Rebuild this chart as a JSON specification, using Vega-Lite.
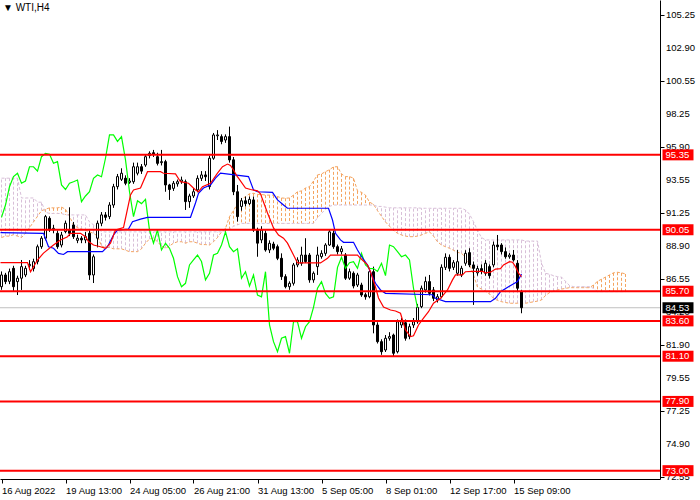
{
  "$schema": "https://vega.github.io/schema/vega-lite/v6.json",
  "width": 660,
  "height": 479,
  "autosize": {"type": "none"},
  "padding": {"left": 0, "top": 0, "right": 40, "bottom": 21},
  "background": "white",
  "title": {
    "text": "▼ WTI,H4",
    "anchor": "start",
    "frame": "group",
    "offset": -13,
    "dx": 3,
    "font": "Liberation Sans",
    "fontSize": 10,
    "fontWeight": "normal",
    "color": "#000000"
  },
  "datasets": {
    "bars": [
      {"i":0,"o":86.02,"h":87.1,"l":85.8,"c":86.85},{"i":1,"o":86.85,"h":87.0,"l":86.2,"c":86.38},
      {"i":2,"o":86.4,"h":87.3,"l":86.2,"c":87.08},{"i":3,"o":87.32,"h":87.5,"l":85.7,"c":86.02},
      {"i":4,"o":86.38,"h":86.8,"l":85.43,"c":86.62},{"i":5,"o":86.62,"h":87.91,"l":85.79,"c":87.44},
      {"i":6,"o":86.85,"h":87.5,"l":86.7,"c":87.32},{"i":7,"o":87.5,"h":87.9,"l":87.2,"c":87.6},
      {"i":8,"o":87.3,"h":88.0,"l":87.1,"c":87.79},{"i":9,"o":87.79,"h":89.0,"l":87.6,"c":88.85},
      {"i":10,"o":88.85,"h":89.6,"l":88.7,"c":89.45},{"i":11,"o":89.45,"h":91.1,"l":89.3,"c":90.98},
      {"i":12,"o":90.86,"h":91.0,"l":89.9,"c":90.03},{"i":13,"o":90.03,"h":90.4,"l":89.8,"c":90.15},
      {"i":14,"o":89.8,"h":90.0,"l":88.7,"c":88.85},{"i":15,"o":88.97,"h":89.9,"l":88.8,"c":89.68},
      {"i":16,"o":89.92,"h":90.7,"l":89.8,"c":90.51},{"i":17,"o":90.03,"h":91.64,"l":89.6,"c":89.8},
      {"i":18,"o":90.39,"h":90.6,"l":89.4,"c":89.56},{"i":19,"o":89.3,"h":89.7,"l":89.1,"c":89.45},
      {"i":20,"o":89.45,"h":89.6,"l":89.1,"c":89.33},{"i":21,"o":89.33,"h":89.9,"l":89.1,"c":89.56},
      {"i":22,"o":89.8,"h":90.0,"l":86.5,"c":86.85},{"i":23,"o":86.85,"h":88.3,"l":86.28,"c":88.14},
      {"i":24,"o":89.45,"h":90.7,"l":88.8,"c":90.51},{"i":25,"o":90.51,"h":91.3,"l":90.3,"c":91.1},
      {"i":26,"o":91.1,"h":91.3,"l":90.7,"c":90.93},{"i":27,"o":90.98,"h":92.0,"l":90.8,"c":91.8},
      {"i":28,"o":91.8,"h":93.3,"l":91.6,"c":93.1},{"i":29,"o":93.1,"h":94.0,"l":92.9,"c":93.81},
      {"i":30,"o":93.62,"h":94.4,"l":93.5,"c":94.05},{"i":31,"o":93.7,"h":93.9,"l":93.2,"c":93.34},
      {"i":32,"o":93.4,"h":93.7,"l":93.3,"c":93.5},{"i":33,"o":93.45,"h":94.8,"l":93.3,"c":94.51},
      {"i":34,"o":94.05,"h":94.8,"l":93.9,"c":94.51},{"i":35,"o":94.51,"h":94.7,"l":94.0,"c":94.2},
      {"i":36,"o":94.63,"h":95.4,"l":94.5,"c":95.22},{"i":37,"o":95.3,"h":95.6,"l":95.1,"c":95.46},
      {"i":38,"o":95.5,"h":95.7,"l":95.2,"c":95.4},{"i":39,"o":95.22,"h":95.5,"l":94.6,"c":94.75},
      {"i":40,"o":94.8,"h":95.7,"l":94.6,"c":94.87},{"i":41,"o":94.87,"h":95.0,"l":92.74,"c":93.22},
      {"i":42,"o":93.22,"h":93.3,"l":92.16,"c":92.9},{"i":43,"o":92.98,"h":93.5,"l":92.8,"c":93.34},
      {"i":44,"o":93.3,"h":93.6,"l":93.1,"c":93.45},{"i":45,"o":93.45,"h":93.81,"l":93.3,"c":93.57},
      {"i":46,"o":93.45,"h":93.6,"l":91.45,"c":92.04},{"i":47,"o":92.04,"h":92.6,"l":91.6,"c":92.44},
      {"i":48,"o":92.44,"h":93.0,"l":92.3,"c":92.74},{"i":49,"o":92.87,"h":93.9,"l":92.7,"c":93.69},
      {"i":50,"o":93.69,"h":94.2,"l":93.5,"c":93.93},{"i":51,"o":93.93,"h":94.2,"l":93.5,"c":93.8},
      {"i":52,"o":93.1,"h":95.3,"l":92.9,"c":95.11},{"i":53,"o":95.11,"h":96.9,"l":95.0,"c":96.76},
      {"i":54,"o":96.7,"h":97.1,"l":96.4,"c":96.76},{"i":55,"o":96.64,"h":96.8,"l":96.1,"c":96.3},
      {"i":56,"o":96.4,"h":96.8,"l":96.2,"c":96.64},{"i":57,"o":96.64,"h":97.35,"l":94.8,"c":94.99},
      {"i":58,"o":95.0,"h":95.2,"l":92.5,"c":92.74},{"i":59,"o":92.74,"h":93.22,"l":90.63,"c":90.98},
      {"i":60,"o":91.7,"h":92.3,"l":91.4,"c":92.1},{"i":61,"o":92.1,"h":92.4,"l":91.7,"c":91.9},
      {"i":62,"o":91.9,"h":92.4,"l":91.8,"c":92.2},{"i":63,"o":92.16,"h":92.4,"l":89.9,"c":90.03},
      {"i":64,"o":90.0,"h":90.2,"l":88.14,"c":89.1},{"i":65,"o":89.33,"h":90.3,"l":89.1,"c":90.03},
      {"i":66,"o":89.8,"h":90.0,"l":88.5,"c":88.62},{"i":67,"o":88.62,"h":89.3,"l":88.4,"c":89.09},
      {"i":68,"o":89.04,"h":89.2,"l":88.6,"c":88.74},{"i":69,"o":88.85,"h":89.0,"l":87.9,"c":88.03},
      {"i":70,"o":88.03,"h":88.38,"l":86.5,"c":86.73},{"i":71,"o":86.73,"h":86.9,"l":85.9,"c":86.02},
      {"i":72,"o":86.02,"h":86.4,"l":85.8,"c":86.26},{"i":73,"o":86.26,"h":87.7,"l":86.1,"c":87.56},
      {"i":74,"o":87.56,"h":88.1,"l":87.4,"c":87.91},{"i":75,"o":87.68,"h":88.85,"l":87.5,"c":88.26},
      {"i":76,"o":88.26,"h":89.45,"l":87.7,"c":87.8},{"i":77,"o":88.26,"h":88.4,"l":86.3,"c":86.5},
      {"i":78,"o":86.5,"h":87.1,"l":86.3,"c":86.97},{"i":79,"o":87.44,"h":88.85,"l":86.85,"c":88.26},
      {"i":80,"o":88.15,"h":88.6,"l":88.0,"c":88.38},{"i":81,"o":88.38,"h":89.1,"l":88.2,"c":88.97},
      {"i":82,"o":88.97,"h":90.1,"l":88.9,"c":89.9},{"i":83,"o":89.8,"h":90.0,"l":88.7,"c":88.85},
      {"i":84,"o":88.85,"h":89.0,"l":88.3,"c":88.5},{"i":85,"o":88.5,"h":88.9,"l":88.3,"c":88.7},
      {"i":86,"o":88.26,"h":88.4,"l":86.5,"c":86.62},{"i":87,"o":86.62,"h":87.3,"l":86.5,"c":87.08},
      {"i":88,"o":86.97,"h":87.1,"l":85.9,"c":86.07},{"i":89,"o":86.14,"h":87.0,"l":86.0,"c":86.85},
      {"i":90,"o":86.14,"h":86.3,"l":85.3,"c":85.43},{"i":91,"o":85.45,"h":85.6,"l":85.1,"c":85.3},
      {"i":92,"o":85.31,"h":87.32,"l":85.2,"c":87.08},{"i":93,"o":87.08,"h":87.44,"l":82.72,"c":83.31},
      {"i":94,"o":83.31,"h":83.5,"l":82.0,"c":82.13},{"i":95,"o":82.13,"h":82.3,"l":81.2,"c":81.42},
      {"i":96,"o":81.54,"h":82.6,"l":81.4,"c":82.37},{"i":97,"o":82.37,"h":82.8,"l":82.2,"c":82.49},
      {"i":98,"o":82.6,"h":82.7,"l":81.07,"c":81.31},{"i":99,"o":81.42,"h":83.7,"l":81.3,"c":83.54},
      {"i":100,"o":83.31,"h":83.8,"l":83.1,"c":83.54},{"i":101,"o":83.47,"h":83.7,"l":82.2,"c":82.37},
      {"i":102,"o":82.49,"h":83.4,"l":82.3,"c":83.19},{"i":103,"o":83.31,"h":83.8,"l":83.1,"c":83.54},
      {"i":104,"o":83.54,"h":84.8,"l":83.4,"c":84.56},{"i":105,"o":84.61,"h":86.1,"l":84.5,"c":85.91},
      {"i":106,"o":85.79,"h":86.73,"l":85.6,"c":86.38},{"i":107,"o":86.38,"h":86.85,"l":85.4,"c":85.55},
      {"i":108,"o":85.79,"h":86.0,"l":85.0,"c":85.2},{"i":109,"o":85.08,"h":85.5,"l":84.9,"c":85.31},
      {"i":110,"o":85.31,"h":87.6,"l":85.2,"c":87.39},{"i":111,"o":87.39,"h":88.38,"l":87.2,"c":88.1},
      {"i":112,"o":88.1,"h":88.3,"l":87.1,"c":87.32},{"i":113,"o":87.39,"h":87.9,"l":87.2,"c":87.72},
      {"i":114,"o":86.97,"h":88.62,"l":86.8,"c":87.79},{"i":115,"o":86.85,"h":87.5,"l":86.7,"c":87.32},
      {"i":116,"o":87.68,"h":88.6,"l":87.5,"c":88.38},{"i":117,"o":88.43,"h":88.74,"l":87.4,"c":87.56},
      {"i":118,"o":87.56,"h":87.8,"l":84.73,"c":87.32},{"i":119,"o":87.0,"h":87.5,"l":86.8,"c":87.3},
      {"i":120,"o":87.3,"h":87.6,"l":86.9,"c":87.1},{"i":121,"o":86.97,"h":87.9,"l":86.8,"c":87.68},
      {"i":122,"o":87.44,"h":87.6,"l":86.6,"c":86.8},{"i":123,"o":87.56,"h":89.21,"l":87.4,"c":88.97},
      {"i":124,"o":88.97,"h":89.68,"l":88.6,"c":88.85},{"i":125,"o":88.97,"h":89.1,"l":88.3,"c":88.5},
      {"i":126,"o":88.5,"h":88.8,"l":88.0,"c":88.14},{"i":127,"o":88.14,"h":88.4,"l":88.0,"c":88.26},
      {"i":128,"o":88.26,"h":88.62,"l":87.8,"c":87.91},{"i":129,"o":87.68,"h":87.9,"l":85.7,"c":85.91},
      {"i":130,"o":85.67,"h":85.8,"l":84.14,"c":84.53}
    ],
    "cloud": [
      {"i":0,"a":89.5,"b":93.7},{"i":1,"a":89.6,"b":93.7},{"i":2,"a":89.6,"b":93.7},{"i":3,"a":89.7,"b":93.7},
      {"i":4,"a":89.6,"b":93.7},{"i":5,"a":89.5,"b":92.3},{"i":6,"a":89.8,"b":92.3},{"i":7,"a":90.2,"b":92.3},
      {"i":8,"a":90.6,"b":92.3},{"i":9,"a":91.0,"b":92.0},{"i":10,"a":91.4,"b":92.0},{"i":11,"a":91.5,"b":91.3},
      {"i":12,"a":91.6,"b":91.2},{"i":13,"a":91.6,"b":91.2},{"i":14,"a":91.6,"b":91.2},{"i":15,"a":91.65,"b":91.2},
      {"i":16,"a":91.5,"b":91.1},{"i":17,"a":91.0,"b":91.1},{"i":18,"a":90.4,"b":91.1},{"i":19,"a":90.2,"b":91.1},
      {"i":20,"a":90.1,"b":91.1},{"i":21,"a":90.0,"b":91.1},{"i":22,"a":89.9,"b":90.6},{"i":23,"a":89.8,"b":90.4},
      {"i":24,"a":89.6,"b":90.2},{"i":25,"a":88.9,"b":89.9},{"i":26,"a":88.8,"b":89.9},{"i":27,"a":88.8,"b":89.9},
      {"i":28,"a":88.7,"b":89.9},{"i":29,"a":88.7,"b":89.9},{"i":30,"a":88.7,"b":89.9},{"i":31,"a":88.6,"b":89.9},
      {"i":32,"a":88.5,"b":89.9},{"i":33,"a":88.5,"b":89.9},{"i":34,"a":88.5,"b":89.9},{"i":35,"a":88.7,"b":89.9},
      {"i":36,"a":89.1,"b":89.9},{"i":37,"a":89.4,"b":89.9},{"i":38,"a":89.45,"b":89.9},{"i":39,"a":89.2,"b":89.9},
      {"i":40,"a":88.9,"b":89.9},{"i":41,"a":88.74,"b":89.9},{"i":42,"a":88.9,"b":89.9},{"i":43,"a":89.1,"b":89.9},
      {"i":44,"a":89.2,"b":89.9},{"i":45,"a":89.2,"b":89.9},{"i":46,"a":89.1,"b":89.9},{"i":47,"a":89.2,"b":89.9},
      {"i":48,"a":89.2,"b":89.9},{"i":49,"a":89.1,"b":89.9},{"i":50,"a":89.0,"b":89.9},{"i":51,"a":89.0,"b":89.9},
      {"i":52,"a":88.97,"b":89.9},{"i":53,"a":89.2,"b":89.9},{"i":54,"a":89.5,"b":89.9},{"i":55,"a":89.9,"b":89.9},
      {"i":56,"a":90.15,"b":89.95},{"i":57,"a":90.98,"b":90.1},{"i":58,"a":91.4,"b":90.3},{"i":59,"a":91.9,"b":90.4},
      {"i":60,"a":92.2,"b":90.5},{"i":61,"a":92.4,"b":90.5},{"i":62,"a":92.6,"b":90.5},{"i":63,"a":92.63,"b":90.5},
      {"i":64,"a":92.55,"b":90.5},{"i":65,"a":92.55,"b":90.5},{"i":66,"a":92.5,"b":90.5},{"i":67,"a":92.5,"b":90.5},
      {"i":68,"a":92.5,"b":90.5},{"i":69,"a":92.4,"b":90.5},{"i":70,"a":92.3,"b":90.5},{"i":71,"a":92.28,"b":90.5},
      {"i":72,"a":92.3,"b":90.5},{"i":73,"a":92.5,"b":90.5},{"i":74,"a":92.74,"b":90.5},{"i":75,"a":92.8,"b":90.5},
      {"i":76,"a":93.0,"b":90.5},{"i":77,"a":93.1,"b":90.5},{"i":78,"a":93.5,"b":90.5},{"i":79,"a":93.93,"b":90.9},
      {"i":80,"a":94.0,"b":91.2},{"i":81,"a":94.16,"b":91.5},{"i":82,"a":94.3,"b":91.7},{"i":83,"a":94.5,"b":91.8},
      {"i":84,"a":94.51,"b":91.8},{"i":85,"a":94.0,"b":91.8},{"i":86,"a":93.81,"b":91.8},{"i":87,"a":93.81,"b":91.8},
      {"i":88,"a":93.7,"b":91.8},{"i":89,"a":92.8,"b":91.8},{"i":90,"a":92.7,"b":91.8},{"i":91,"a":92.5,"b":91.8},
      {"i":92,"a":92.0,"b":91.8},{"i":93,"a":91.85,"b":91.8},{"i":94,"a":91.4,"b":91.7},{"i":95,"a":91.0,"b":91.7},
      {"i":96,"a":90.6,"b":91.65},{"i":97,"a":90.3,"b":91.6},{"i":98,"a":90.0,"b":91.6},{"i":99,"a":89.8,"b":91.6},
      {"i":100,"a":89.68,"b":91.6},{"i":101,"a":89.6,"b":91.6},{"i":102,"a":89.56,"b":91.6},{"i":103,"a":89.56,"b":91.6},
      {"i":104,"a":89.6,"b":91.6},{"i":105,"a":89.68,"b":91.57},{"i":106,"a":89.8,"b":91.57},{"i":107,"a":89.9,"b":91.57},
      {"i":108,"a":89.6,"b":91.57},{"i":109,"a":89.2,"b":91.57},{"i":110,"a":88.97,"b":91.57},{"i":111,"a":88.85,"b":91.57},
      {"i":112,"a":88.74,"b":91.57},{"i":113,"a":88.6,"b":91.57},{"i":114,"a":88.45,"b":91.57},{"i":115,"a":88.38,"b":91.57},
      {"i":116,"a":88.1,"b":91.45},{"i":117,"a":87.6,"b":91.15},{"i":118,"a":86.85,"b":90.62},{"i":119,"a":86.0,"b":90.0},
      {"i":120,"a":85.85,"b":89.5},{"i":121,"a":85.7,"b":89.33},{"i":122,"a":85.5,"b":89.33},{"i":123,"a":85.2,"b":89.33},
      {"i":124,"a":85.05,"b":89.33},{"i":125,"a":84.96,"b":89.33},{"i":126,"a":84.9,"b":89.33},{"i":127,"a":84.85,"b":89.33},
      {"i":128,"a":84.85,"b":89.33},{"i":129,"a":84.85,"b":89.33},{"i":130,"a":84.85,"b":89.33},{"i":131,"a":84.85,"b":89.25},
      {"i":132,"a":84.9,"b":89.25},{"i":133,"a":84.95,"b":89.25},{"i":134,"a":85.0,"b":89.25},{"i":135,"a":85.08,"b":87.7},
      {"i":136,"a":85.4,"b":86.97},{"i":137,"a":85.6,"b":86.9},{"i":138,"a":85.7,"b":86.8},{"i":139,"a":85.79,"b":86.73},
      {"i":140,"a":85.85,"b":86.7},{"i":141,"a":85.9,"b":86.4},{"i":142,"a":85.95,"b":86.1},{"i":143,"a":85.95,"b":86.02},
      {"i":144,"a":85.95,"b":86.02},{"i":145,"a":85.95,"b":86.02},{"i":146,"a":85.95,"b":86.02},{"i":147,"a":85.95,"b":86.02},
      {"i":148,"a":86.14,"b":85.9},{"i":149,"a":86.4,"b":85.67},{"i":150,"a":86.55,"b":85.67},{"i":151,"a":86.7,"b":85.67},
      {"i":152,"a":86.85,"b":85.67},{"i":153,"a":87.0,"b":85.67},{"i":154,"a":87.04,"b":85.67},{"i":155,"a":87.0,"b":85.67},
      {"i":156,"a":86.92,"b":85.67}
    ],
    "tenkan": [
      {"i":-0.25,"v":87.72},{"i":6.5,"v":87.72},{"i":7.25,"v":87.08},{"i":9,"v":87.91},{"i":10.5,"v":88.4},
      {"i":13,"v":88.97},{"i":14.75,"v":89.33},{"i":16.5,"v":89.56},{"i":17.25,"v":89.8},{"i":19.75,"v":89.8},
      {"i":21,"v":89.56},{"i":21.75,"v":89.21},{"i":23,"v":88.97},{"i":24.75,"v":88.85},{"i":26,"v":88.73},
      {"i":27.25,"v":89.1},{"i":28.5,"v":90.03},{"i":30.5,"v":90.2},{"i":31.25,"v":91.2},{"i":32.25,"v":92.51},
      {"i":33,"v":92.87},{"i":34.75,"v":93.0},{"i":36.5,"v":94.16},{"i":39.75,"v":94.16},{"i":40.5,"v":94.05},
      {"i":43.5,"v":94.0},{"i":44.75,"v":93.45},{"i":46.75,"v":93.34},{"i":48.5,"v":92.87},{"i":49.25,"v":92.74},
      {"i":50.25,"v":93.1},{"i":52.25,"v":93.34},{"i":54,"v":94.06},{"i":55.25,"v":94.51},{"i":56.5,"v":94.7},
      {"i":57.25,"v":94.6},{"i":58,"v":94.28},{"i":58.75,"v":93.9},{"i":59.25,"v":93.7},{"i":61,"v":93.0},
      {"i":62.25,"v":92.9},{"i":64,"v":92.8},{"i":64.75,"v":92.6},{"i":66.5,"v":91.24},{"i":68,"v":90.18},
      {"i":69.25,"v":89.68},{"i":70.5,"v":89.45},{"i":71.5,"v":89.1},{"i":73,"v":88.26},{"i":74,"v":87.7},
      {"i":79.75,"v":87.7},{"i":81.5,"v":88.03},{"i":82.25,"v":88.26},{"i":89,"v":88.26},{"i":89.75,"v":88.03},
      {"i":91.5,"v":87.56},{"i":92.25,"v":87.08},{"i":93.5,"v":86.0},{"i":94.25,"v":85.22},{"i":95.5,"v":84.58},
      {"i":97.25,"v":84.37},{"i":98.5,"v":84.3},{"i":99.75,"v":84.14},{"i":101,"v":82.96},{"i":102.25,"v":82.49},
      {"i":103,"v":82.55},{"i":104.25,"v":83.31},{"i":105.5,"v":83.8},{"i":106.75,"v":84.25},{"i":108,"v":84.85},
      {"i":109.75,"v":85.2},{"i":111.5,"v":85.79},{"i":112.75,"v":86.5},{"i":113.5,"v":86.85},{"i":115.25,"v":86.85},
      {"i":116,"v":87.08},{"i":117.75,"v":87.1},{"i":120.25,"v":87.1},{"i":121,"v":87.0},{"i":122.25,"v":87.05},
      {"i":123.5,"v":87.27},{"i":124.75,"v":87.3},{"i":125.5,"v":87.56},{"i":127,"v":87.79},{"i":127.75,"v":87.75},
      {"i":128.5,"v":87.44},{"i":129.25,"v":86.97},{"i":130,"v":86.73}
    ],
    "kijun": [
      {"i":-0.25,"v":89.85},{"i":10.5,"v":89.8},{"i":11.75,"v":88.85},{"i":13,"v":88.74},{"i":14.25,"v":88.38},
      {"i":15.5,"v":88.3},{"i":16.5,"v":88.5},{"i":25.25,"v":88.5},{"i":26.5,"v":88.85},{"i":28,"v":89.68},
      {"i":29,"v":90.03},{"i":31.75,"v":90.1},{"i":32.75,"v":90.62},{"i":34.75,"v":90.8},{"i":36.5,"v":90.93},
      {"i":47.25,"v":90.93},{"i":48.5,"v":91.94},{"i":49.25,"v":92.63},{"i":50.5,"v":93.0},{"i":52.25,"v":93.22},
      {"i":53.5,"v":93.7},{"i":54.75,"v":94.06},{"i":61.75,"v":93.81},{"i":63,"v":92.87},{"i":64,"v":92.74},
      {"i":67.75,"v":92.7},{"i":69,"v":92.16},{"i":70.5,"v":91.8},{"i":71.5,"v":91.57},{"i":81.75,"v":91.57},
      {"i":82.75,"v":90.74},{"i":83.5,"v":89.8},{"i":84.75,"v":89.33},{"i":85.5,"v":89.16},{"i":88,"v":89.16},
      {"i":89,"v":88.62},{"i":89.75,"v":88.26},{"i":91.5,"v":87.56},{"i":92.75,"v":86.73},{"i":93.5,"v":86.26},
      {"i":94.75,"v":85.79},{"i":96,"v":85.55},{"i":107.75,"v":85.45},{"i":108.5,"v":85.2},{"i":111,"v":84.96},
      {"i":122.25,"v":84.96},{"i":123.5,"v":85.2},{"i":124.75,"v":85.67},{"i":126.75,"v":86.02},{"i":129,"v":86.38},
      {"i":130,"v":86.92}
    ],
    "chikou": [
      {"i":0,"v":90.93},{"i":1,"v":91.8},{"i":2,"v":93.1},{"i":3,"v":93.81},{"i":4,"v":94.05},{"i":5,"v":93.34},
      {"i":6,"v":93.5},{"i":7,"v":94.51},{"i":8,"v":94.51},{"i":9,"v":94.2},{"i":10,"v":95.22},{"i":11,"v":95.46},
      {"i":12,"v":95.4},{"i":13,"v":94.75},{"i":14,"v":94.87},{"i":15,"v":93.22},{"i":16,"v":92.9},{"i":17,"v":93.34},
      {"i":18,"v":93.45},{"i":19,"v":93.57},{"i":20,"v":92.04},{"i":21,"v":92.44},{"i":22,"v":92.74},{"i":23,"v":93.69},
      {"i":24,"v":93.93},{"i":25,"v":93.8},{"i":26,"v":95.11},{"i":27,"v":96.76},{"i":28,"v":96.76},{"i":29,"v":96.3},
      {"i":30,"v":96.64},{"i":31,"v":94.99},{"i":32,"v":92.74},{"i":33,"v":90.98},{"i":34,"v":92.1},{"i":35,"v":91.9},
      {"i":36,"v":92.2},{"i":37,"v":90.03},{"i":38,"v":89.1},{"i":39,"v":90.03},{"i":40,"v":88.62},{"i":41,"v":89.09},
      {"i":42,"v":88.74},{"i":43,"v":88.03},{"i":44,"v":86.73},{"i":45,"v":86.02},{"i":46,"v":86.26},{"i":47,"v":87.56},
      {"i":48,"v":87.91},{"i":49,"v":88.26},{"i":50,"v":87.8},{"i":51,"v":86.5},{"i":52,"v":86.97},{"i":53,"v":88.26},
      {"i":54,"v":88.38},{"i":55,"v":88.97},{"i":56,"v":89.9},{"i":57,"v":88.85},{"i":58,"v":88.5},{"i":59,"v":88.7},
      {"i":60,"v":86.62},{"i":61,"v":87.08},{"i":62,"v":86.07},{"i":63,"v":86.85},{"i":64,"v":85.43},{"i":65,"v":85.3},
      {"i":66,"v":87.08},{"i":67,"v":83.31},{"i":68,"v":82.13},{"i":69,"v":81.42},{"i":70,"v":82.37},{"i":71,"v":82.49},
      {"i":72,"v":81.31},{"i":73,"v":83.54},{"i":74,"v":83.54},{"i":75,"v":82.37},{"i":76,"v":83.19},{"i":77,"v":83.54},
      {"i":78,"v":84.56},{"i":79,"v":85.91},{"i":80,"v":86.38},{"i":81,"v":85.55},{"i":82,"v":85.2},{"i":83,"v":85.31},
      {"i":84,"v":87.39},{"i":85,"v":88.1},{"i":86,"v":87.32},{"i":87,"v":87.72},{"i":88,"v":87.79},{"i":89,"v":87.32},
      {"i":90,"v":88.38},{"i":91,"v":87.56},{"i":92,"v":87.32},{"i":93,"v":87.3},{"i":94,"v":87.1},{"i":95,"v":87.68},
      {"i":96,"v":86.8},{"i":97,"v":88.97},{"i":98,"v":88.85},{"i":99,"v":88.5},{"i":100,"v":88.14},{"i":101,"v":88.26},
      {"i":102,"v":87.91},{"i":103,"v":85.91},{"i":104,"v":84.53}
    ],
    "levels": [
      {"p":95.35,"k":"lvl"},{"p":90.05,"k":"lvl"},{"p":85.7,"k":"lvl"},{"p":83.6,"k":"lvl"},
      {"p":81.1,"k":"lvl"},{"p":77.9,"k":"lvl"},{"p":73.0,"k":"lvl"},{"p":84.53,"k":"bid"}
    ],
    "yticks": [
      {"v":105.25},{"v":102.9},{"v":100.55},{"v":98.25},{"v":95.9},{"v":93.55},{"v":91.25},{"v":88.9},
      {"v":86.55},{"v":84.2},{"v":81.9},{"v":79.55},{"v":77.25},{"v":74.9},{"v":72.55}
    ]
  },
  "layer": [
    {
      "data": {"name": "cloud"},
      "mark": {"type": "rule", "strokeWidth": 1, "strokeDash": [3, 2]},
      "encoding": {
        "x": {
          "field": "i", "type": "quantitative", "title": null,
          "scale": {"domain": [-0.375, 164.625], "nice": false, "zero": false},
          "axis": {
            "values": [0, 16, 32, 48, 64, 80, 96, 112, 128],
            "labelExpr": "['16 Aug 2022','19 Aug 13:00','24 Aug 05:00','26 Aug 21:00','31 Aug 13:00','5 Sep 05:00','8 Sep 01:00','12 Sep 17:00','15 Sep 09:00'][round(datum.value / 16)]",
            "labelAlign": "left", "labelFlush": false, "labelOverlap": false,
            "labelPadding": 2, "labelDx": 1, "tickSize": 4, "grid": false,
            "domainColor": "#000000", "tickColor": "#000000", "labelColor": "#000000",
            "labelFont": "Liberation Sans", "labelFontSize": 9.5
          }
        },
        "y": {
          "field": "a", "type": "quantitative", "title": null,
          "scale": {"domain": [72.41, 106.31], "nice": false, "zero": false},
          "axis": {
            "orient": "right",
            "values": [105.25, 102.9, 100.55, 98.25, 95.9, 93.55, 91.25, 88.9, 86.55, 84.2, 81.9, 79.55, 77.25, 74.9, 72.55],
            "labels": false, "tickSize": 4, "grid": false,
            "domainColor": "#000000", "tickColor": "#000000"
          }
        },
        "y2": {"field": "b"},
        "color": {
          "condition": {"test": "datum.a > datum.b", "value": "#F4A460"},
          "value": "#D8BFD8"
        }
      }
    },
    {
      "data": {"name": "cloud"},
      "mark": {"type": "line", "color": "#F4A460", "strokeWidth": 1, "strokeDash": [3, 2]},
      "encoding": {
        "x": {"field": "i", "type": "quantitative", "title": null},
        "y": {"field": "a", "type": "quantitative", "title": null}
      }
    },
    {
      "data": {"name": "cloud"},
      "mark": {"type": "line", "color": "#D8BFD8", "strokeWidth": 1, "strokeDash": [3, 2]},
      "encoding": {
        "x": {"field": "i", "type": "quantitative", "title": null},
        "y": {"field": "b", "type": "quantitative", "title": null}
      }
    },
    {
      "data": {"name": "levels"},
      "transform": [{"filter": "datum.k == 'bid'"}],
      "mark": {"type": "rule", "color": "#C0C0C0", "strokeWidth": 1},
      "encoding": {
        "y": {"field": "p", "type": "quantitative", "title": null}
      }
    },
    {
      "data": {"name": "bars"},
      "mark": {"type": "rule", "color": "#000000", "strokeWidth": 1},
      "encoding": {
        "x": {"field": "i", "type": "quantitative", "title": null},
        "y": {"field": "l", "type": "quantitative", "title": null},
        "y2": {"field": "h"}
      }
    },
    {
      "data": {"name": "bars"},
      "mark": {"type": "rect", "stroke": "#000000", "strokeWidth": 1, "xOffset": -1, "x2Offset": 1},
      "encoding": {
        "x": {"field": "i", "type": "quantitative", "title": null},
        "x2": {"field": "i"},
        "y": {"field": "o", "type": "quantitative", "title": null},
        "y2": {"field": "c"},
        "fill": {
          "condition": {"test": "datum.c > datum.o", "value": "#FFFFFF"},
          "value": "#000000"
        }
      }
    },
    {
      "data": {"name": "chikou"},
      "mark": {"type": "line", "color": "#00FF00", "strokeWidth": 1.2},
      "encoding": {
        "x": {"field": "i", "type": "quantitative", "title": null},
        "y": {"field": "v", "type": "quantitative", "title": null}
      }
    },
    {
      "data": {"name": "kijun"},
      "mark": {"type": "line", "color": "#0000FF", "strokeWidth": 1.2},
      "encoding": {
        "x": {"field": "i", "type": "quantitative", "title": null},
        "y": {"field": "v", "type": "quantitative", "title": null}
      }
    },
    {
      "data": {"name": "tenkan"},
      "mark": {"type": "line", "color": "#FF0000", "strokeWidth": 1.2},
      "encoding": {
        "x": {"field": "i", "type": "quantitative", "title": null},
        "y": {"field": "v", "type": "quantitative", "title": null}
      }
    },
    {
      "data": {"name": "levels"},
      "transform": [{"filter": "datum.k == 'lvl'"}],
      "mark": {"type": "rule", "color": "#FF0000", "strokeWidth": 2},
      "encoding": {
        "y": {"field": "p", "type": "quantitative", "title": null}
      }
    },
    {
      "data": {"name": "yticks"},
      "mark": {"type": "text", "align": "left", "baseline": "middle", "font": "Liberation Sans", "fontSize": 9.5, "color": "#000000"},
      "encoding": {
        "x": {"datum": 166.1, "type": "quantitative"},
        "y": {"field": "v", "type": "quantitative", "title": null},
        "text": {"field": "v", "type": "quantitative", "format": ".2f"}
      }
    },
    {
      "data": {"name": "levels"},
      "mark": {"type": "rect", "yOffset": -5.5, "y2Offset": 5.5},
      "encoding": {
        "x": {"datum": 165.25, "type": "quantitative"},
        "x2": {"datum": 173.0},
        "y": {"field": "p", "type": "quantitative", "title": null},
        "y2": {"field": "p"},
        "fill": {
          "condition": {"test": "datum.k == 'bid'", "value": "#000000"},
          "value": "#FF0000"
        }
      }
    },
    {
      "data": {"name": "levels"},
      "mark": {"type": "text", "align": "left", "baseline": "middle", "font": "Liberation Sans", "fontSize": 9.5, "color": "#FFFFFF"},
      "encoding": {
        "x": {"datum": 166.0, "type": "quantitative"},
        "y": {"field": "p", "type": "quantitative", "title": null},
        "text": {"field": "p", "type": "quantitative", "format": ".2f"}
      }
    }
  ],
  "config": {
    "view": {"stroke": null},
    "font": "Liberation Sans"
  }
}
